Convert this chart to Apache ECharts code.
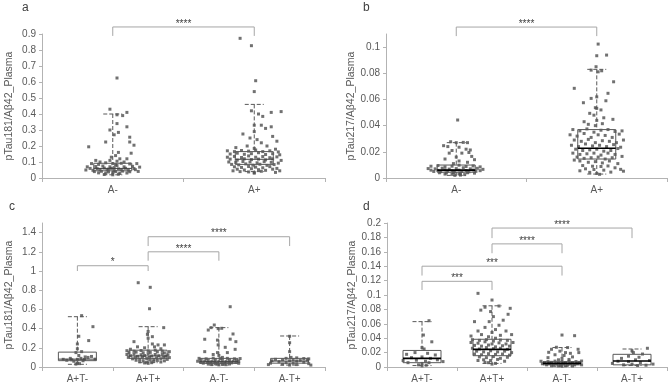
<!DOCTYPE html>
<html>
<head>
<meta charset="utf-8">
<script src="https://cdn.jsdelivr.net/npm/echarts@6/dist/echarts.min.js"></script>
<style>
  html, body { margin: 0; padding: 0; background: #fff; }
  #main { width: 669px; height: 385px; }
</style>
</head>
<body>
<div id="main"></div>
<script>
// categories
var catsAB = ['A-', 'A+'];
var catsCD = ['A+T-', 'A+T+', 'A-T-', 'A-T+'];

// tick labels
var ticksA = [0, 0.1, 0.2, 0.3, 0.4, 0.5, 0.6, 0.7, 0.8, 0.9];
var ticksB = [0, 0.02, 0.04, 0.06, 0.08, 0.1];
var ticksC = [0, 0.2, 0.4, 0.6, 0.8, 1, 1.2, 1.4];
var ticksD = [0, 0.02, 0.04, 0.06, 0.08, 0.1, 0.12, 0.14, 0.16, 0.18, 0.2];

// box stats: [min, q1, median, q3, max]
var boxA = [[0.02, 0.045, 0.06, 0.092, 0.40], [0.04, 0.085, 0.117, 0.165, 0.46]];
var boxB = [[0.002, 0.0044, 0.006, 0.0099, 0.027], [0.003, 0.0145, 0.0227, 0.037, 0.083]];
var boxC = [[0.028, 0.066, 0.082, 0.155, 0.524], [0.045, 0.09, 0.115, 0.175, 0.42],
            [0.02, 0.038, 0.055, 0.09, 0.41], [0.02, 0.04, 0.062, 0.09, 0.323]];
var boxD = [[0.002, 0.006, 0.012, 0.023, 0.063], [0.005, 0.0157, 0.0245, 0.0385, 0.085],
            [0.001, 0.003, 0.005, 0.0074, 0.027], [0.002, 0.003, 0.0083, 0.0176, 0.025]];

// points: [x offset within category, value]
var a_Aneg = [[0.03,0.625],[-0.02,0.43],[0.10,0.41],[0.07,0.39],[0.03,0.395],[0.03,0.34],[-0.02,0.30],[0.10,0.32],[0.01,0.27],[0.04,0.285],[0.12,0.255],[-0.05,0.225],[0.12,0.225],[-0.17,0.195],[0.15,0.205],[0.13,0.155],[0.04,0.16],[0.02,0.14],[-0.01,0.13],[0.05,0.12],
  [-0.15,0.09],[-0.10,0.085],[-0.05,0.095],[0.0,0.09],[0.06,0.092],[0.12,0.088],[0.17,0.09],[-0.18,0.07],[-0.12,0.072],[-0.07,0.075],[-0.02,0.07],[0.03,0.078],[0.08,0.07],[0.14,0.073],[0.19,0.068],[-0.16,0.06],[-0.11,0.058],[-0.06,0.062],[-0.01,0.06],[0.04,0.057],[0.09,0.061],[0.15,0.059],[-0.19,0.05],[-0.14,0.048],[-0.09,0.052],[-0.04,0.05],[0.01,0.047],[0.06,0.05],[0.11,0.049],[0.16,0.052],[-0.13,0.04],[-0.08,0.042],[-0.03,0.038],[0.02,0.04],[0.07,0.043],[0.12,0.039],[0.18,0.041],[-0.10,0.032],[-0.05,0.03],[0.0,0.033],[0.05,0.028],[0.10,0.031],[-0.06,0.022],[0.0,0.02],[0.04,0.024],[-0.02,0.11],[0.03,0.105],[-0.09,0.1],[0.08,0.1],[0.01,0.065],[-0.03,0.055],[0.02,0.083],[-0.12,0.11],[0.1,0.12]];
var a_Apos = [[-0.10,0.873],[-0.02,0.827],[0.01,0.608],[0.0,0.54],[0.12,0.41],[0.19,0.415],[0.06,0.385],[-0.02,0.42],[0.03,0.40],[-0.08,0.275],[0.0,0.33],[0.05,0.33],[0.08,0.31],[0.12,0.32],[0.13,0.26],[0.16,0.23],[-0.03,0.25],[0.02,0.24],[0.05,0.22],[0.0,0.29],[-0.05,0.2],[0.09,0.2],[-0.13,0.19],[0.15,0.18],[0.0,0.185],
  [-0.19,0.17],[-0.14,0.165],[-0.09,0.172],[-0.04,0.168],[0.01,0.175],[0.06,0.165],[0.11,0.17],[0.17,0.163],[-0.17,0.15],[-0.12,0.155],[-0.07,0.148],[-0.02,0.152],[0.03,0.158],[0.08,0.147],[0.13,0.152],[0.18,0.145],[-0.19,0.13],[-0.14,0.135],[-0.09,0.128],[-0.04,0.138],[0.01,0.13],[0.06,0.134],[0.11,0.127],[0.16,0.132],[-0.17,0.118],[-0.12,0.112],[-0.07,0.12],[-0.02,0.115],[0.03,0.118],[0.08,0.113],[0.13,0.12],[0.19,0.11],[-0.18,0.1],[-0.13,0.097],[-0.08,0.103],[-0.03,0.1],[0.02,0.095],[0.07,0.102],[0.12,0.098],[0.17,0.093],[-0.16,0.085],[-0.11,0.082],[-0.06,0.088],[-0.01,0.08],[0.04,0.086],[0.09,0.079],[0.14,0.084],[-0.14,0.07],[-0.09,0.066],[-0.04,0.072],[0.01,0.068],[0.06,0.064],[0.11,0.071],[0.16,0.06],[-0.12,0.055],[-0.07,0.05],[-0.02,0.058],[0.03,0.052],[0.08,0.048],[0.13,0.055],[0.18,0.045],[-0.10,0.04],[-0.04,0.038],[0.0,0.035],[0.05,0.042],[0.15,0.035],[-0.15,0.045],[0.0,0.03]];

var b_Aneg = [[0.01,0.0443],[-0.09,0.0247],[-0.04,0.0277],[0.0,0.027],[0.05,0.0272],[0.08,0.027],[-0.06,0.024],[0.02,0.0235],[0.07,0.022],[0.10,0.0214],[-0.03,0.021],[0.04,0.019],[0.09,0.0195],[-0.05,0.019],[0.0,0.016],[0.11,0.0165],[0.13,0.014],[-0.08,0.0145],[0.02,0.013],[0.08,0.012],[-0.02,0.011],
  [-0.18,0.009],[-0.13,0.0095],[-0.08,0.0085],[-0.03,0.009],[0.02,0.0098],[0.07,0.0088],[0.12,0.0092],[0.17,0.0085],[-0.20,0.0072],[-0.15,0.007],[-0.10,0.0075],[-0.05,0.0068],[0.0,0.0072],[0.05,0.0078],[0.10,0.007],[0.15,0.0074],[0.19,0.0066],[-0.18,0.006],[-0.13,0.0058],[-0.08,0.0062],[-0.03,0.0055],[0.02,0.006],[0.07,0.0057],[0.12,0.0061],[0.17,0.0056],[-0.16,0.005],[-0.11,0.0048],[-0.06,0.0052],[-0.01,0.0046],[0.04,0.005],[0.09,0.0047],[0.14,0.0051],[-0.12,0.004],[-0.07,0.0038],[-0.02,0.0042],[0.03,0.0036],[0.08,0.004],[0.13,0.0037],[-0.08,0.003],[-0.03,0.0028],[0.02,0.0032],[0.06,0.0026],[-0.01,0.002],[0.03,0.0022]];
var b_Apos = [[0.01,0.1023],[0.0,0.0934],[0.07,0.0939],[-0.005,0.085],[0.01,0.0811],[0.035,0.0819],[-0.04,0.0824],[0.12,0.0735],[-0.16,0.0685],[0.08,0.0647],[0.0,0.062],[-0.04,0.0608],[-0.095,0.0575],[0.065,0.059],[-0.01,0.0537],[0.0,0.0532],[0.03,0.052],[-0.05,0.0494],[-0.02,0.048],[0.115,0.0448],[0.05,0.046],[-0.09,0.043],[0.0,0.044],[-0.06,0.041],[0.04,0.0415],[-0.01,0.040],
  [-0.17,0.037],[-0.12,0.036],[-0.07,0.0375],[-0.02,0.035],[0.03,0.0365],[0.08,0.037],[0.13,0.0355],[0.18,0.036],[-0.19,0.033],[-0.14,0.032],[-0.09,0.034],[-0.04,0.031],[0.01,0.033],[0.06,0.0325],[0.11,0.031],[0.16,0.0335],[-0.16,0.029],[-0.11,0.028],[-0.06,0.0295],[-0.01,0.027],[0.04,0.0285],[0.09,0.028],[0.14,0.027],[0.19,0.029],[-0.18,0.025],[-0.13,0.024],[-0.08,0.026],[-0.03,0.0245],[0.02,0.025],[0.07,0.024],[0.12,0.0255],[0.17,0.0235],[-0.15,0.022],[-0.10,0.021],[-0.05,0.0215],[0.0,0.022],[0.05,0.0205],[0.10,0.021],[0.15,0.0225],[-0.17,0.019],[-0.12,0.018],[-0.07,0.0185],[-0.02,0.019],[0.03,0.0175],[0.08,0.019],[0.13,0.018],[0.18,0.0165],[-0.14,0.016],[-0.09,0.015],[-0.04,0.0155],[0.01,0.016],[0.06,0.0145],[0.11,0.0155],[-0.12,0.013],[-0.06,0.012],[-0.01,0.0125],[0.04,0.0115],[0.09,0.013],[0.15,0.011],[-0.16,0.0137],[-0.10,0.0095],[-0.03,0.009],[0.03,0.0088],[0.08,0.0092],[0.13,0.0078],[-0.08,0.007],[-0.02,0.0065],[0.05,0.006],[0.17,0.0066],[0.19,0.0052],[-0.05,0.0043],[0.0,0.0035],[0.02,0.0028],[0.1,0.0045],[-0.12,0.0055]];

var c_ApTn = [[0.06,0.535],[0.22,0.42],[0.02,0.32],[0.16,0.275],[0.0,0.24],[0.0,0.19],[0.06,0.16],[-0.02,0.15],[0.02,0.12],[0.11,0.105],[0.2,0.11],[0.15,0.1],[-0.1,0.09],[0.05,0.09],[-0.2,0.08],[-0.08,0.075],[0.0,0.08],[0.1,0.078],[0.25,0.082],[-0.15,0.07],[0.08,0.065],[-0.05,0.06],[0.0,0.04],[-0.02,0.03],[0.03,0.035]];
var c_ApTp = [[-0.14,0.878],[0.03,0.83],[0.02,0.607],[0.22,0.41],[0.0,0.37],[-0.01,0.34],[0.06,0.316],[0.0,0.3],[-0.2,0.264],[0.06,0.24],[0.14,0.23],[0.23,0.23],[0.09,0.21],[-0.15,0.21],[-0.05,0.2],[0.18,0.19],[-0.25,0.185],
  [-0.3,0.17],[-0.2,0.165],[-0.1,0.172],[0.0,0.168],[0.1,0.175],[0.2,0.165],[0.3,0.16],[-0.27,0.15],[-0.17,0.155],[-0.07,0.148],[0.03,0.152],[0.13,0.158],[0.23,0.147],[-0.3,0.13],[-0.2,0.135],[-0.1,0.128],[0.0,0.138],[0.1,0.13],[0.2,0.134],[0.28,0.127],[-0.25,0.118],[-0.15,0.112],[-0.05,0.12],[0.05,0.115],[0.15,0.118],[0.25,0.113],[-0.28,0.1],[-0.18,0.097],[-0.08,0.103],[0.02,0.1],[0.12,0.095],[0.22,0.102],[0.3,0.098],[-0.22,0.085],[-0.12,0.082],[-0.02,0.088],[0.08,0.08],[0.18,0.086],[0.27,0.079],[-0.17,0.07],[-0.07,0.066],[0.03,0.072],[0.13,0.068],[0.23,0.064],[-0.12,0.055],[-0.02,0.05],[0.08,0.058],[0.18,0.052],[-0.05,0.042],[0.05,0.045],[0.0,0.038]];
var c_AnTn = [[0.16,0.628],[-0.065,0.4375],[-0.15,0.385],[-0.11,0.41],[0.04,0.403],[-0.01,0.40],[0.2,0.344],[-0.2,0.289],[-0.02,0.28],[0.16,0.29],[0.09,0.205],[0.24,0.264],[0.23,0.184],[-0.2,0.16],[-0.01,0.23],[-0.02,0.15],[-0.08,0.13],[0.12,0.15],[0.0,0.12],[0.05,0.1],
  [-0.28,0.09],[-0.18,0.085],[-0.08,0.092],[0.02,0.088],[0.12,0.09],[0.22,0.085],[0.3,0.088],[-0.25,0.075],[-0.15,0.07],[-0.05,0.078],[0.05,0.072],[0.15,0.075],[0.25,0.07],[-0.3,0.06],[-0.2,0.062],[-0.1,0.058],[0.0,0.06],[0.1,0.057],[0.2,0.061],[0.28,0.059],[-0.26,0.05],[-0.16,0.048],[-0.06,0.052],[0.04,0.047],[0.14,0.05],[0.24,0.049],[-0.22,0.04],[-0.12,0.042],[-0.02,0.038],[0.08,0.04],[0.18,0.043],[0.28,0.039],[-0.15,0.03],[-0.05,0.033],[0.05,0.028],[0.15,0.031],[-0.1,0.025],[0.0,0.022],[0.1,0.024]];
var c_AnTp = [[0.0,0.32],[0.0,0.253],[0.0,0.16],[0.02,0.1],[0.1,0.095],[-0.05,0.09],[0.2,0.088],[0.27,0.085],[-0.2,0.08],[-0.1,0.075],[0.05,0.078],[0.15,0.07],[0.25,0.072],[-0.25,0.065],[0.0,0.065],[0.1,0.06],[-0.15,0.055],[0.2,0.05],[-0.05,0.045],[0.05,0.04],[-0.27,0.04],[0.27,0.035],[-0.1,0.03],[0.1,0.025],[0.0,0.02],[0.3,0.02],[-0.3,0.025]];

var d_ApTn = [[0.1,0.0643],[0.02,0.0444],[0.14,0.035],[0.0,0.027],[0.03,0.025],[-0.22,0.0176],[0.19,0.0167],[-0.1,0.02],[0.08,0.019],[-0.15,0.013],[0.0,0.014],[0.12,0.012],[-0.27,0.009],[-0.08,0.0095],[0.05,0.008],[0.22,0.01],[0.3,0.0075],[-0.2,0.006],[0.1,0.006],[0.0,0.005],[-0.05,0.003],[0.06,0.0025],[0.0,0.0015]];
var d_ApTp = [[-0.2,0.1023],[0.0,0.093],[-0.1,0.083],[0.1,0.0847],[-0.16,0.079],[0.26,0.0815],[-0.02,0.077],[0.23,0.0732],[0.02,0.07],[-0.04,0.063],[0.16,0.065],[-0.25,0.063],[0.1,0.058],[-0.1,0.055],[0.05,0.052],[-0.2,0.05],[0.2,0.05],[0.0,0.048],[0.28,0.045],[-0.3,0.043],[-0.15,0.045],[0.12,0.044],[-0.05,0.042],[0.05,0.04],
  [-0.28,0.038],[-0.18,0.037],[-0.08,0.038],[0.02,0.036],[0.12,0.0375],[0.22,0.037],[-0.3,0.034],[-0.2,0.033],[-0.1,0.035],[0.0,0.032],[0.1,0.0335],[0.2,0.032],[0.3,0.034],[-0.25,0.03],[-0.15,0.029],[-0.05,0.0305],[0.05,0.028],[0.15,0.0295],[0.25,0.029],[-0.28,0.026],[-0.18,0.025],[-0.08,0.027],[0.02,0.0255],[0.12,0.026],[0.22,0.0245],[-0.22,0.022],[-0.12,0.021],[-0.02,0.0225],[0.08,0.021],[0.18,0.022],[0.28,0.02],[-0.25,0.018],[-0.15,0.017],[-0.05,0.0185],[0.05,0.0175],[0.15,0.018],[0.25,0.0165],[-0.18,0.014],[-0.08,0.013],[0.02,0.0145],[0.12,0.012],[0.22,0.0135],[-0.12,0.01],[-0.02,0.009],[0.08,0.0105],[0.18,0.008],[-0.2,0.009],[-0.05,0.006],[0.05,0.005],[0.0,0.004],[-0.1,0.0065]];
var d_AnTn = [[0.0,0.0444],[0.18,0.0435],[-0.08,0.0274],[-0.15,0.0246],[0.08,0.027],[0.23,0.0246],[-0.19,0.0204],[0.24,0.02],[-0.03,0.022],[0.05,0.02],[0.12,0.019],[-0.1,0.017],[0.03,0.016],[0.15,0.014],[-0.2,0.013],[0.0,0.012],[-0.05,0.01],[0.1,0.0105],
  [-0.3,0.008],[-0.2,0.0075],[-0.1,0.0082],[0.0,0.0078],[0.1,0.008],[0.2,0.0076],[0.28,0.0083],[-0.25,0.006],[-0.15,0.0065],[-0.05,0.0058],[0.05,0.0062],[0.15,0.006],[0.25,0.0064],[-0.28,0.0045],[-0.18,0.0048],[-0.08,0.0042],[0.02,0.0046],[0.12,0.0044],[0.22,0.0047],[-0.22,0.003],[-0.12,0.0032],[-0.02,0.0028],[0.08,0.0031],[0.18,0.0029],[0.28,0.003],[-0.15,0.0018],[-0.05,0.0015],[0.05,0.0017],[0.15,0.0014],[0.0,0.001]];
var d_AnTp = [[0.22,0.026],[0.0,0.0225],[0.02,0.02],[0.15,0.018],[-0.05,0.015],[0.1,0.0135],[-0.15,0.012],[0.05,0.01],[0.25,0.009],[-0.2,0.008],[-0.05,0.0075],[0.12,0.006],[-0.28,0.005],[0.3,0.004],[0.0,0.004],[-0.12,0.003],[0.2,0.0025],[0.08,0.002]];

// significance brackets: [from, to, end value, top value, stars]
var sigA = [[0, 1, 0.888, 0.944, '****']];
var sigB = [[0, 1, 0.1084, 0.1153, '****']];
var sigC = [[0, 1, 1.0, 1.055, '*'], [1, 2, 1.107, 1.2, '****'], [1, 3, 1.26, 1.357, '****']];
var sigD = [[0, 1, 0.107, 0.119, '***'], [0, 2, 0.127, 0.140, '***'], [1, 2, 0.158, 0.171, '****'], [1, 3, 0.179, 0.193, '****']];

var FONT = 'Liberation Sans';
var TXT = '#595959';
var AXIS = '#b3b3b3';

var panels = [
  {grid: {left: 42, top: 34, width: 283, height: 144}, cats: catsAB, max: 0.9, ticks: ticksA, box: boxA, pts: [a_Aneg, a_Apos], sig: sigA, name: 'pTau181/Aβ42_Plasma', thick: false},
  {grid: {left: 386, top: 34, width: 281, height: 144}, cats: catsAB, max: 0.11, ticks: ticksB, box: boxB, pts: [b_Aneg, b_Apos], sig: sigB, name: 'pTau217/Aβ42_Plasma', thick: true},
  {grid: {left: 42, top: 223, width: 283, height: 144}, cats: catsCD, max: 1.5, ticks: ticksC, box: boxC, pts: [c_ApTn, c_ApTp, c_AnTn, c_AnTp], sig: sigC, name: 'pTau181/Aβ42_Plasma', thick: false},
  {grid: {left: 387, top: 223, width: 280, height: 144}, cats: catsCD, max: 0.2, ticks: ticksD, box: boxD, pts: [d_ApTn, d_ApTp, d_AnTn, d_AnTp], sig: sigD, name: 'pTau217/Aβ42_Plasma', thick: true}
];

var grids = [], xAxes = [], yAxes = [], series = [];

panels.forEach(function (p, k) {
  grids.push(p.grid);
  xAxes.push({
    type: 'category', gridIndex: k, data: p.cats, boundaryGap: true,
    axisLine: {onZero: false, lineStyle: {color: AXIS}},
    axisTick: {show: true, length: 4, lineStyle: {color: AXIS}},
    axisLabel: {color: TXT, fontFamily: FONT, fontSize: 10, margin: 7}
  });
  yAxes.push({
    type: 'value', gridIndex: k, min: 0, max: p.max,
    splitLine: {show: false},
    axisLine: {show: true, onZero: false, lineStyle: {color: AXIS}},
    axisTick: {show: true, length: 3, lineStyle: {color: AXIS}, customValues: p.ticks},
    axisLabel: {color: TXT, fontFamily: FONT, fontSize: 10, margin: 6, customValues: p.ticks},
    name: p.name, nameLocation: 'middle', nameGap: 27,
    nameTextStyle: {color: TXT, fontFamily: FONT, fontSize: 10.5}
  });
});
// hidden value axes for the jittered points
panels.forEach(function (p, k) {
  xAxes.push({type: 'value', gridIndex: k, min: -0.5, max: p.cats.length - 0.5, show: false,
    axisLine: {onZero: false}, splitLine: {show: false}});
});

panels.forEach(function (p, k) {
  var pts = [];
  p.pts.forEach(function (g, i) {
    g.forEach(function (d) { pts.push([i + d[0], d[1]]); });
  });
  series.push({
    type: 'scatter', xAxisIndex: panels.length + k, yAxisIndex: k, z: 3,
    symbol: 'rect', symbolSize: 3, silent: true,
    itemStyle: {color: '#4d4d4d'},
    data: pts
  });

  // boxes + dashed whiskers
  series.push({
    type: 'custom', xAxisIndex: k, yAxisIndex: k, z: 4, silent: true,
    data: p.box.map(function (b, i) { return [i, b[0], b[4]]; }),
    encode: {x: 0, y: [1, 2]},
    renderItem: function (params, api) {
      var i = params.dataIndex;
      var b = p.box[i];
      var lo = api.coord([i, b[0]]);
      var q1 = api.coord([i, b[1]]);
      var md = api.coord([i, b[2]]);
      var q3 = api.coord([i, b[3]]);
      var hi = api.coord([i, b[4]]);
      var x = lo[0], w = 38, c = 19;
      var dash = {stroke: '#595959', lineWidth: 1, lineDash: [4, 2]};
      return {
        type: 'group',
        children: [
          {type: 'line', shape: {x1: x, y1: hi[1], x2: x, y2: q3[1]}, style: dash},
          {type: 'line', shape: {x1: x, y1: q1[1], x2: x, y2: lo[1]}, style: dash},
          {type: 'line', shape: {x1: x - c / 2, y1: hi[1], x2: x + c / 2, y2: hi[1]}, style: dash},
          {type: 'line', shape: {x1: x - c / 2, y1: lo[1], x2: x + c / 2, y2: lo[1]}, style: dash},
          {type: 'rect', shape: {x: x - w / 2, y: q3[1], width: w, height: q1[1] - q3[1]},
            style: {fill: 'rgba(255,255,255,0)', stroke: '#595959', lineWidth: 1}},
          {type: 'line', shape: {x1: x - w / 2, y1: md[1], x2: x + w / 2, y2: md[1]},
            style: {stroke: p.thick ? '#000' : '#404040', lineWidth: p.thick ? 1.6 : 1}}
        ]
      };
    }
  });

  // significance brackets
  series.push({
    type: 'custom', xAxisIndex: k, yAxisIndex: k, z: 5, silent: true, clip: false,
    data: p.sig.map(function (s) { return [s[0], s[3]]; }),
    encode: {x: 0, y: 1},
    renderItem: function (params, api) {
      var s = p.sig[params.dataIndex];
      var a = api.coord([s[0], s[2]]);
      var b = api.coord([s[0], s[3]]);
      var c = api.coord([s[1], s[3]]);
      var d = api.coord([s[1], s[2]]);
      var st = {stroke: '#a6a6a6', lineWidth: 1};
      return {
        type: 'group',
        children: [
          {type: 'line', shape: {x1: a[0], y1: a[1], x2: b[0], y2: b[1]}, style: st},
          {type: 'line', shape: {x1: b[0], y1: b[1], x2: c[0], y2: c[1]}, style: st},
          {type: 'line', shape: {x1: c[0], y1: c[1], x2: d[0], y2: d[1]}, style: st},
          {type: 'text', x: (b[0] + c[0]) / 2, y: b[1] - 3,
            style: {text: s[4], fill: '#404040', fontFamily: FONT, fontSize: 10, align: 'center', verticalAlign: 'middle'}}
        ]
      };
    }
  });
});

var chart = echarts.init(document.getElementById('main'), null, {renderer: 'canvas'});
chart.setOption({
  animation: false,
  backgroundColor: '#fff',
  grid: grids,
  xAxis: xAxes,
  yAxis: yAxes,
  graphic: [
    {type: 'text', left: 22, top: 2, style: {text: 'a', fill: '#404040', fontFamily: FONT, fontSize: 12}},
    {type: 'text', left: 363, top: 2, style: {text: 'b', fill: '#404040', fontFamily: FONT, fontSize: 12}},
    {type: 'text', left: 9, top: 201, style: {text: 'c', fill: '#404040', fontFamily: FONT, fontSize: 12}},
    {type: 'text', left: 363, top: 201, style: {text: 'd', fill: '#404040', fontFamily: FONT, fontSize: 12}}
  ],
  series: series
});
</script>
</body>
</html>
